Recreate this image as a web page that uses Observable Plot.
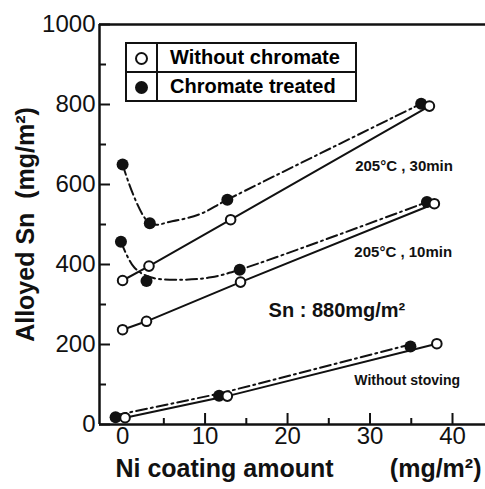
<!DOCTYPE html>
<html>
<head>
<meta charset="utf-8">
<script src="https://cdn.jsdelivr.net/npm/d3@7"></script>
<script src="https://cdn.jsdelivr.net/npm/@observablehq/plot@0.6"></script>
<style>
  html, body { margin: 0; padding: 0; background: #fff; }
  #wrap { position: relative; width: 485px; height: 489px; overflow: hidden; }
  #legend { position: absolute; left: 125px; top: 42px; border-collapse: collapse;
            font-family: "Liberation Sans", Arial, sans-serif; font-weight: bold; font-size: 20px; }
  #legend td { border: 2px solid #111; height: 27px; padding: 0; }
  #legend td.sym { width: 29px; text-align: center; }
  #legend td.lab { width: 185px; padding-left: 12px; }
  .o { display: inline-block; width: 9px; height: 9px; border: 2px solid #111; border-radius: 50%; background: #fff; vertical-align: middle; }
  .f { display: inline-block; width: 13px; height: 13px; border-radius: 50%; background: #111; vertical-align: middle; }
</style>
</head>
<body>
<div id="wrap"></div>
<script>
// ---- data ----
// 205°C, 30 min
const niOpen30  = [0, 3.2, 13.1, 37.2];
const snOpen30  = [360, 396, 512, 796];
const niChrom30 = [0, 3.3, 12.7, 36.2];
const snChrom30 = [650, 503, 562, 802];
// dash-dot fitted curve knots (chromate, 30 min)
const fitNi30 = [0, 3.3, 6, 9.5, 12.7, 36.2];
const fitSn30 = [650, 503, 508, 527, 562, 802];
// 205°C, 10 min
const niOpen10  = [0, 2.9, 14.3, 37.8];
const snOpen10  = [237, 258, 356, 552];
const niChrom10 = [-0.2, 2.9, 14.2, 36.9];
const snChrom10 = [457, 359, 387, 556];
// dash-dot fitted curve knots (chromate, 10 min)
const fitNi10 = [-0.2, 1.4, 3.4, 7.2, 10.7, 14.2, 36.9];
const fitSn10 = [457, 393, 368, 362, 368, 387, 556];
// without stoving
const niOpen0  = [0.3, 12.7, 38.1];
const snOpen0  = [17, 71, 202];
const niChrom0 = [-0.85, 11.7, 34.9];
const snChrom0 = [18, 72, 195];

const xDomain = [-2.8, 44];
const yDomain = [0, 1000];
const yTickLabels = [0, 200, 400, 600, 800, 1000];
const yMinorTicks = [100, 300, 500, 700, 900];
const xTickLabels = [0, 10, 20, 30, 40];
const xMajorTicks = [10, 20, 30, 40];
const xMinorTicks = [5, 15, 25, 35];

const annotations = [
  {x: 28.2, y: 647, text: "205°C , 30min", size: 15},
  {x: 28.1, y: 430, text: "205°C , 10min", size: 15},
  {x: 17.7, y: 285, text: "Sn : 880mg/m²", size: 20},
  {x: 28.1, y: 110, text: "Without stoving", size: 14}
];

const pts = (xs, ys) => xs.map((x, i) => ({x, y: ys[i]}));

const W = 485, H = 489, ML = 99, MR = 0, MT = 24, MB = 65;
const PW = W - ML - MR, PH = H - MT - MB;
const font = "'Liberation Sans', Arial, sans-serif";
const dashDot = "11,4,2,4";

const openDot = (d) => Plot.dot(d, {x: "x", y: "y", r: 4.8, fill: "white", stroke: "#111", strokeWidth: 2});
const fillDot = (d) => Plot.dot(d, {x: "x", y: "y", r: 6, fill: "#111"});

const chart = Plot.plot({
  width: W, height: H,
  marginLeft: ML, marginRight: MR, marginTop: MT, marginBottom: MB,
  x: {domain: xDomain, axis: null},
  y: {domain: yDomain, axis: null},
  style: {background: "white", fontFamily: font, overflow: "visible"},
  marks: [
    // axes frame
    Plot.ruleY([yDomain[0], yDomain[1]], {stroke: "#111", strokeWidth: 2.5}),
    Plot.ruleX([xDomain[0]], {stroke: "#111", strokeWidth: 2.5}),
    // inward ticks
    Plot.ruleY(yTickLabels, {insetRight: PW - 11, stroke: "#111", strokeWidth: 2}),
    Plot.ruleY(yMinorTicks, {insetRight: PW - 7, stroke: "#111", strokeWidth: 2}),
    Plot.ruleX(xMajorTicks, {insetTop: PH - 11, stroke: "#111", strokeWidth: 2}),
    Plot.ruleX(xMinorTicks, {insetTop: PH - 6, stroke: "#111", strokeWidth: 2}),
    // tick labels
    Plot.text(yTickLabels, {y: d => d, text: d => String(d), frameAnchor: "left", dx: -4,
      textAnchor: "end", fontSize: 24, fill: "#111"}),
    Plot.text(xTickLabels, {x: d => d, text: d => String(d), frameAnchor: "bottom", dy: 19,
      fontSize: 24, fill: "#111"}),
    // axis titles
    Plot.text(["Alloyed Sn  (mg/m²)"], {text: d => d, frameAnchor: "left", dx: -74, rotate: -90,
      textAnchor: "middle", fontSize: 25, fontWeight: "bold", fill: "#111"}),
    Plot.text(["Ni coating amount"], {text: d => d, frameAnchor: "bottom-left", dx: 16, dy: 52,
      textAnchor: "start", fontSize: 25, fontWeight: "bold", fill: "#111"}),
    Plot.text(["(mg/m²)"], {text: d => d, frameAnchor: "bottom-right", dx: -4, dy: 52,
      textAnchor: "end", fontSize: 25, fontWeight: "bold", fill: "#111"}),
    // lines
    Plot.line(pts(niOpen30, snOpen30), {x: "x", y: "y", stroke: "#111", strokeWidth: 2}),
    Plot.line(pts(niOpen10, snOpen10), {x: "x", y: "y", stroke: "#111", strokeWidth: 2}),
    Plot.line(pts(niOpen0, snOpen0), {x: "x", y: "y", stroke: "#111", strokeWidth: 2}),
    Plot.line(pts(fitNi30, fitSn30), {x: "x", y: "y", curve: "catmull-rom", stroke: "#111", strokeWidth: 2, strokeDasharray: dashDot}),
    Plot.line(pts(fitNi10, fitSn10), {x: "x", y: "y", curve: "catmull-rom", stroke: "#111", strokeWidth: 2, strokeDasharray: dashDot}),
    Plot.line(pts(niChrom0, snChrom0), {x: "x", y: "y", stroke: "#111", strokeWidth: 2, strokeDasharray: dashDot, dy: -2}),
    // markers
    fillDot(pts(niChrom30, snChrom30)),
    fillDot(pts(niChrom10, snChrom10)),
    fillDot(pts(niChrom0, snChrom0)),
    openDot(pts(niOpen30, snOpen30)),
    openDot(pts(niOpen10, snOpen10)),
    openDot(pts(niOpen0, snOpen0)),
    // annotations
    Plot.text(annotations, {x: "x", y: "y", text: "text", fontSize: "size", textAnchor: "start",
      fontWeight: "bold", fill: "#111"})
  ]
});

const wrap = document.getElementById("wrap");
wrap.appendChild(chart);
const legend = document.createElement("table");
legend.id = "legend";
legend.innerHTML = `
  <tr><td class="sym"><span class="o"></span></td><td class="lab">Without chromate</td></tr>
  <tr><td class="sym"><span class="f"></span></td><td class="lab">Chromate treated</td></tr>`;
wrap.appendChild(legend);
</script>
</body>
</html>
